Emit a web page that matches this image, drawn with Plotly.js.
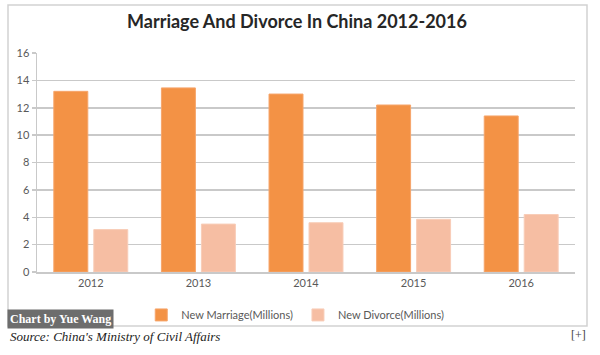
<!DOCTYPE html>
<html>
<head>
<meta charset="utf-8">
<script src="https://cdn.plot.ly/plotly-3.0.1.min.js"></script>
<style>
  html, body { margin: 0; padding: 0; background: #ffffff; }
  #chart { width: 600px; height: 355px; }
</style>
</head>
<body>
<div id="chart"></div>
<script>
var years = ['2012', '2013', '2014', '2015', '2016'];
var newMarriage = [13.2, 13.45, 13.0, 12.2, 11.4];
var newDivorce = [3.1, 3.5, 3.6, 3.85, 4.2];
var yTicks = [0, 2, 4, 6, 8, 10, 12, 14, 16];

var traces = [
  {
    type: 'bar', name: 'New Marriage(Millions)', x: years, y: newMarriage,
    marker: { color: '#F39245', line: { color: '#F6A56B', width: 1 } },
    hoverinfo: 'x+y'
  },
  {
    type: 'bar', name: 'New Divorce(Millions)', x: years, y: newDivorce,
    marker: { color: '#F6BEA3', line: { color: '#F8CDB8', width: 1 } },
    hoverinfo: 'x+y'
  }
];

var grey = '#c9c9c9';
var layout = {
  width: 600, height: 355,
  paper_bgcolor: '#ffffff', plot_bgcolor: '#ffffff',
  margin: { l: 37, r: 25, t: 53, b: 83 },
  font: { family: 'Lato, "Open Sans", sans-serif', color: '#595959', size: 11 },
  title: {
    text: '<b>Marriage And Divorce In China 2012-2016</b>',
    font: { family: 'Lato, "Open Sans", sans-serif', size: 18, color: '#262626' },
    x: 0.495, xanchor: 'center', y: 0.938, yanchor: 'middle'
  },
  barmode: 'group', bargap: 0.257, bargroupgap: 0.15,
  xaxis: {
    type: 'category', showgrid: false, showline: true, linecolor: grey, linewidth: 1.5,
    ticks: '', tickfont: { size: 11, color: '#595959' }, zeroline: false, fixedrange: true
  },
  yaxis: {
    range: [0, 16], tickvals: yTicks, ticktext: yTicks.map(String),
    showgrid: true, gridcolor: grey, gridwidth: 1.5,
    showline: true, linecolor: grey, linewidth: 1.5,
    ticks: 'outside', ticklen: 4, tickcolor: grey, tickwidth: 1.5,
    zeroline: false, tickfont: { size: 11, color: '#595959' }, fixedrange: true
  },
  showlegend: true,
  legend: {
    orientation: 'h', x: 0.48, xanchor: 'center', y: -0.196, yanchor: 'middle',
    font: { size: 11, color: '#595959' }, itemwidth: 30, bgcolor: 'rgba(0,0,0,0)',
    traceorder: 'normal'
  },
  shapes: [
    { type: 'rect', xref: 'paper', yref: 'paper', x0: -0.0539, x1: 1.0223, y0: -0.2466, y1: 1.219,
      line: { color: '#d2d2d2', width: 1.5 }, fillcolor: 'rgba(0,0,0,0)', layer: 'below' }
  ],
  annotations: [
    { text: '<b>Chart by Yue Wang</b>', xref: 'paper', yref: 'paper',
      x: -0.0558, y: -0.2146, xanchor: 'left', yanchor: 'middle', showarrow: false,
      font: { family: '"Liberation Serif", "DejaVu Serif", serif', size: 12, color: '#ffffff' },
      bgcolor: '#6d6d6d', borderpad: 2, align: 'center' },
    { text: "<i>Source: China's Ministry of Civil Affairs</i>", xref: 'paper', yref: 'paper',
      x: -0.054, y: -0.293, xanchor: 'left', yanchor: 'middle', showarrow: false,
      font: { family: '"Liberation Serif", "DejaVu Serif", serif', size: 13, color: '#222222' } },
    { text: '[+]', xref: 'paper', yref: 'paper',
      x: 1.0242, y: -0.288, xanchor: 'right', yanchor: 'middle', showarrow: false,
      font: { family: '"Liberation Serif", "DejaVu Serif", serif', size: 12, color: '#444444' } }
  ]
};

Plotly.newPlot('chart', traces, layout, { displayModeBar: false, staticPlot: true });
</script>
</body>
</html>
